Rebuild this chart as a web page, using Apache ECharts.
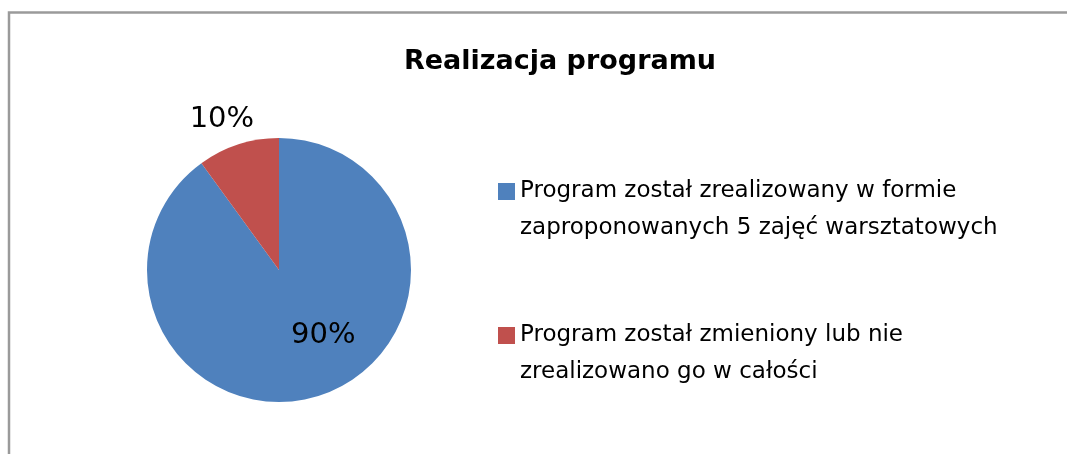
<!DOCTYPE html>
<html><head><meta charset="utf-8">
<script src="https://cdn.jsdelivr.net/npm/echarts@6/dist/echarts.min.js"></script>
<style>html,body{margin:0;padding:0;background:#fff}#c{width:1067px;height:454px}</style>
</head><body><div id="c"></div>
<script>
const titleText = 'Realizacja programu';
const categories = [
  'Program został zrealizowany w formie\nzaproponowanych 5 zajęć warsztatowych',
  'Program został zmieniony lub nie\nzrealizowano go w całości'
];
const values = [90, 10];
const colors = ['#4F81BD', '#C0504D'];
const FONT = 'DejaVu Sans';

const chart = echarts.init(document.getElementById('c'));
chart.setOption({
  backgroundColor: '#fff',
  animation: false,
  graphic: [{
    type: 'rect', z: 0,
    shape: { x: 9, y: 12.5, width: 1200, height: 600 },
    style: { fill: 'none', stroke: '#9a9a9a', lineWidth: 2.5 }
  }],
  title: {
    text: titleText, left: 555, top: 43, textAlign: 'center',
    textStyle: { fontFamily: FONT, fontWeight: 'bold', fontSize: 27, color: '#000' }
  },
  legend: {
    orient: 'vertical', left: 493, top: 131,
    icon: 'rect', itemWidth: 17, itemHeight: 17, itemGap: 33,
    selectedMode: false,
    formatter: name => '\n' + name,
    textStyle: { fontFamily: FONT, fontSize: 23, color: '#000', lineHeight: 37, padding: [0, 0, 0, 0] },
    data: categories
  },
  series: [{
    type: 'pie',
    center: [279, 270], radius: 132,
    startAngle: 90, clockwise: true,
    data: categories.map((c, i) => ({
      name: c, value: values[i], itemStyle: { color: colors[i] },
      label: { position: i === 0 ? 'inside' : 'outside' }
    })),
    label: {
      formatter: '{d}%', fontFamily: FONT, fontSize: 29, color: '#000'
    },
    labelLine: { show: false, length: 10, length2: 0 },
    labelLayout: function (p) {
      if (p.dataIndex === 0) return { dx: 23, dy: 0 };
      return { dx: 24, dy: -15 };
    },
    emphasis: { disabled: true }
  }]
});
</script></body></html>
